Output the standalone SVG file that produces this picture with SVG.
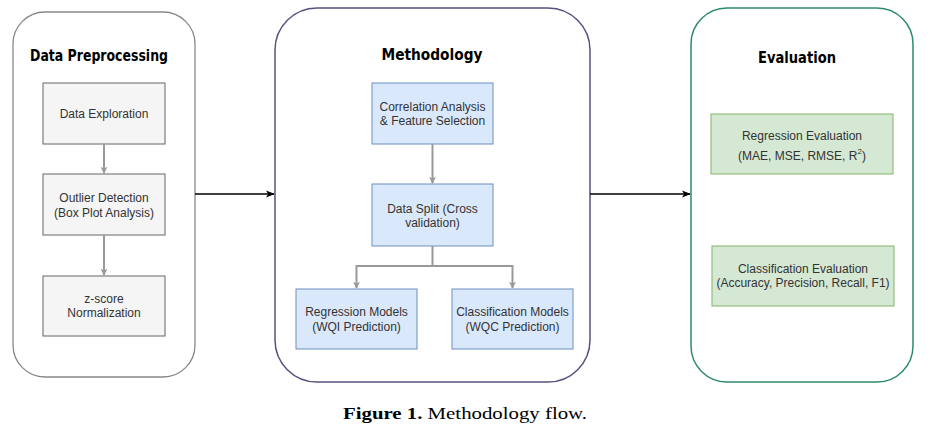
<svg xmlns="http://www.w3.org/2000/svg" width="932" height="431" viewBox="0 0 932 431">
<defs>
<marker id="ga" viewBox="0 0 10 10" refX="9" refY="5" markerWidth="7" markerHeight="7" orient="auto" markerUnits="userSpaceOnUse"><path d="M0,0 L10,5 L0,10 L2.5,5 Z" fill="#999"/></marker>
<marker id="ba" viewBox="0 0 10 10" refX="9" refY="5" markerWidth="9" markerHeight="9" orient="auto" markerUnits="userSpaceOnUse"><path d="M0,1 L10,5 L0,9 L2.5,5 Z" fill="#000"/></marker>
<style>
.t{font-family:"Liberation Sans",Arial,sans-serif;font-size:12px;fill:#333;text-anchor:middle}
.h{font-family:"Comic Sans MS","DejaVu Sans",sans-serif;font-weight:bold;font-size:15px;fill:#000;text-anchor:middle}
.gray{fill:#f5f5f5;stroke:#666;stroke-width:1}
.blue{fill:#dae8fc;stroke:#6c8ebf;stroke-width:1}
.green{fill:#d5e8d4;stroke:#82b366;stroke-width:1}
.gl{fill:none;stroke:#999;stroke-width:2}
.bl{fill:none;stroke:#000;stroke-width:1.5}
</style>
</defs>
<rect width="932" height="431" fill="#fff"/>
<g id="c-pre"><rect x="13" y="12" width="182" height="365" rx="32" fill="#fff" stroke="#888" stroke-width="1.3"/><text class="h" x="99" y="61" textLength="138" lengthAdjust="spacingAndGlyphs">Data Preprocessing</text></g>
<g id="c-meth"><rect x="275" y="8" width="315" height="374" rx="42" fill="#fff" stroke="#56517e" stroke-width="1.5"/><text class="h" x="432" y="60" textLength="101" lengthAdjust="spacingAndGlyphs">Methodology</text></g>
<g id="c-eval"><rect x="691" y="8" width="222" height="374" rx="36" fill="#fff" stroke="#2e8b6a" stroke-width="1.5"/><text class="h" x="797" y="63" textLength="78" lengthAdjust="spacingAndGlyphs">Evaluation</text></g>

<g id="n-explore"><rect class="gray" x="43" y="83" width="122" height="61"/><text class="t" x="104" y="118">Data Exploration</text></g>
<g id="n-outlier"><rect class="gray" x="43" y="174" width="122" height="61"/><text class="t" x="104" y="202">Outlier Detection</text><text class="t" x="104" y="217">(Box Plot Analysis)</text></g>
<g id="n-zscore"><rect class="gray" x="43" y="276" width="122" height="60"/><text class="t" x="104" y="303">z-score</text><text class="t" x="104" y="317">Normalization</text></g>

<g id="n-corr"><rect class="blue" x="372" y="83" width="121" height="61"/><text class="t" x="432.5" y="111">Correlation Analysis</text><text class="t" x="432.5" y="125">&amp; Feature Selection</text></g>
<g id="n-split"><rect class="blue" x="372" y="184" width="121" height="62"/><text class="t" x="432.5" y="213">Data Split (Cross</text><text class="t" x="432.5" y="227">validation)</text></g>
<g id="n-reg"><rect class="blue" x="296" y="289" width="121" height="60"/><text class="t" x="356.5" y="316">Regression Models</text><text class="t" x="356.5" y="331">(WQI Prediction)</text></g>
<g id="n-cls"><rect class="blue" x="452" y="289" width="121" height="60"/><text class="t" x="512.5" y="316">Classification Models</text><text class="t" x="512.5" y="331">(WQC Prediction)</text></g>

<g id="n-regeval"><rect class="green" x="711" y="114" width="182" height="60"/><text class="t" x="802" y="140">Regression Evaluation</text><text class="t" x="802" y="160">(MAE, MSE, RMSE, R<tspan font-size="8" dy="-6">2</tspan><tspan dy="6">)</tspan></text></g>
<g id="n-clseval"><rect class="green" x="712" y="246" width="182" height="60"/><text class="t" x="803" y="273">Classification Evaluation</text><text class="t" x="803" y="287">(Accuracy, Precision, Recall, F1)</text></g>

<g id="connectors">
<path class="gl" d="M104,144 V173" marker-end="url(#ga)"/>
<path class="gl" d="M104,235 V275" marker-end="url(#ga)"/>
<path class="gl" d="M432.5,144 V183" marker-end="url(#ga)"/>
<path class="gl" d="M432.5,246 V266 H356.5 V288" marker-end="url(#ga)"/>
<path class="gl" d="M432.5,266 H512.5 V288" marker-end="url(#ga)"/>
<path class="bl" d="M195,194 H274" marker-end="url(#ba)"/>
<path class="bl" d="M590,194 H690" marker-end="url(#ba)"/>
</g>
<text x="465" y="419" font-family="'Liberation Serif','Times New Roman',serif" font-size="17" fill="#000" text-anchor="middle" textLength="244" lengthAdjust="spacingAndGlyphs"><tspan font-weight="bold">Figure 1.</tspan> Methodology flow.</text>
</svg>
